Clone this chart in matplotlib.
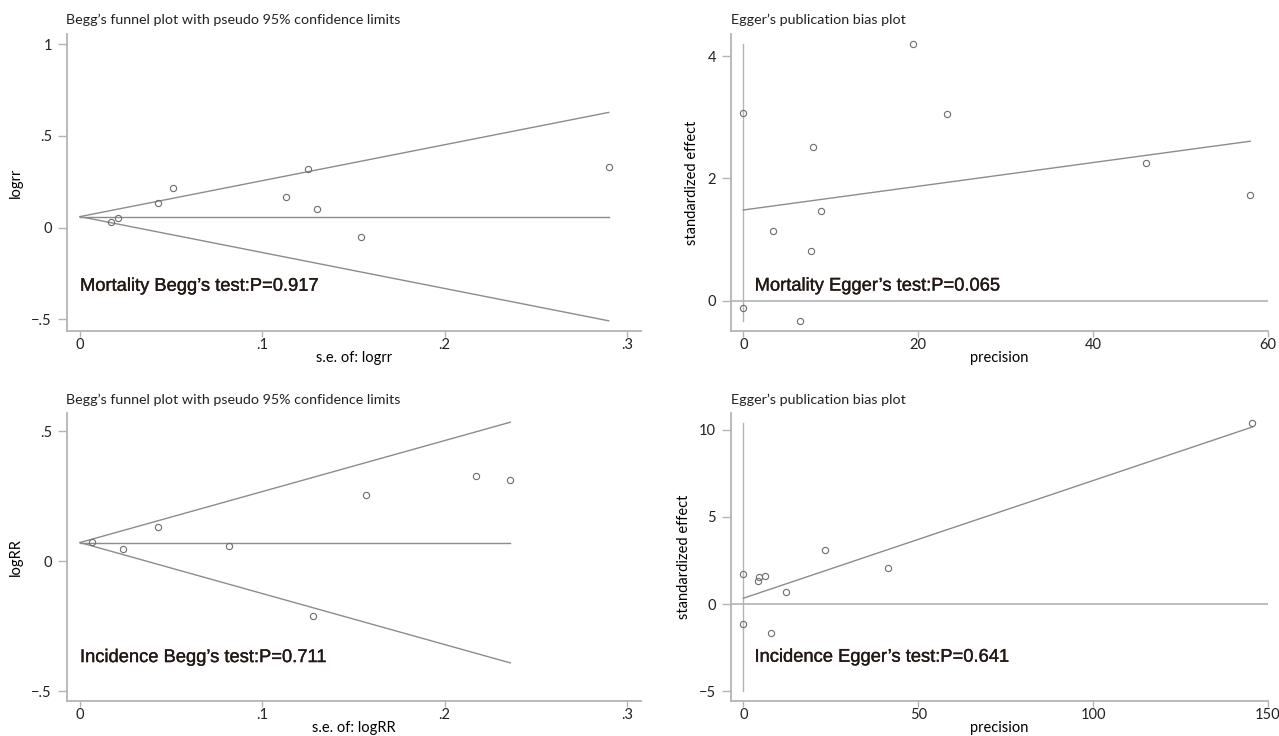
import numpy as np
import matplotlib
matplotlib.use("Agg")
import matplotlib.pyplot as plt
import matplotlib.patheffects as pe

# --- Mortality: Begg's funnel data (s.e. of logrr, logrr)
mort_se = [0.017, 0.021, 0.043, 0.051, 0.113, 0.125, 0.130, 0.154, 0.290]
mort_logrr = [0.030, 0.050, 0.133, 0.215, 0.166, 0.317, 0.104, -0.051, 0.330]
mort_pooled = 0.060

# --- Mortality: Egger data (precision, standardized effect)
mort_prec = [0.0, 0.0, 3.45, 6.52, 7.73, 7.96, 8.85, 19.43, 23.35, 46.0, 57.96]
mort_std = [3.07, -0.114, 1.145, -0.327, 0.813, 2.51, 1.47, 4.19, 3.06, 2.25, 1.72]
mort_egger_fit = [1.483, 2.607]       # fitted values at precision 0 and max
mort_egger_vline = [-0.33, 4.19]

# --- Incidence: Begg's funnel data
inc_se = [0.0065, 0.0237, 0.0426, 0.0815, 0.1276, 0.157, 0.217, 0.236]
inc_logrr = [0.073, 0.0485, 0.131, 0.0588, -0.2096, 0.2555, 0.328, 0.314]
inc_pooled = 0.072

# --- Incidence: Egger data
inc_prec = [0.0, 0.0, 4.3, 4.6, 6.29, 7.8, 12.1, 23.3, 41.5, 145.4]
inc_std = [1.71, -1.14, 1.34, 1.52, 1.62, -1.66, 0.71, 3.07, 2.04, 10.38]
inc_egger_fit = [0.33, 10.14]
inc_egger_vline = [-5.0, 10.4]

begg_title = "Begg\u2019s funnel plot with pseudo 95% confidence limits"
egger_title = "Egger\u2019s publication bias plot"

LINE = "#8c8c8c"
SPINE = "#b4b4b4"
MARK = "#6e6e6e"
TXT = "#231815"
ANN_FONT = ["Liberation Sans", "DejaVu Sans"]
BOLDEN = [pe.withStroke(linewidth=0.25, foreground=TXT)]

plt.rcParams["font.family"] = ["Lato", "DejaVu Sans"]

fig = plt.figure(figsize=(12.79, 7.36), dpi=100)
W, H = 1279, 736


def make_ax(l, t, r, b):
    ax = fig.add_axes([l / W, 1 - b / H, (r - l) / W, (b - t) / H])
    for s in ["top", "right"]:
        ax.spines[s].set_visible(False)
    for s in ["left", "bottom"]:
        ax.spines[s].set_color(SPINE)
        ax.spines[s].set_linewidth(1.3)
    ax.tick_params(axis="y", colors=SPINE, labelcolor="#222222", length=6.5,
                   width=1.0, labelsize=10.5, pad=4)
    ax.tick_params(axis="x", colors=SPINE, labelcolor="#222222", length=4,
                   width=1.0, labelsize=10.5, pad=1)
    return ax


def begg(ax, se, eff, pooled, xlabel, ylabel, yticks, ylabels, ylim, note, title, tl):
    se_max = max(se)
    xs = np.array([0, se_max])
    ax.plot(xs, [pooled, pooled], color=LINE, lw=1.0)
    ax.plot(xs, pooled + 1.96 * xs, color=LINE, lw=1.0)
    ax.plot(xs, pooled - 1.96 * xs, color=LINE, lw=1.0)
    ax.plot(se, eff, "o", mfc="none", mec=MARK, ms=4.5, mew=0.8)
    ax.set_xlim(-0.0074, 0.3077)
    ax.set_ylim(*ylim)
    ax.set_xticks([0, 0.1, 0.2, 0.3])
    ax.set_xticklabels(["0", ".1", ".2", ".3"])
    ax.set_yticks(yticks)
    ax.set_yticklabels(ylabels)
    ax.set_xlabel(xlabel, fontsize=10.5, labelpad=-1)
    ax.set_ylabel(ylabel, fontsize=10.5, labelpad=6)
    ax.text(0.0, note[1], note[0], fontsize=13.2, color=TXT, family=ANN_FONT,
            va="center", ha="left", path_effects=BOLDEN)
    fig.text(tl[0] / W, 1 - tl[1] / H, title, fontsize=10.3, color="#222222",
             ha="left", va="center")


def egger(ax, prec, std, fit, vline, xlim, ylim, xticks, yticks, note, title, tl):
    ax.axhline(0, color=SPINE, lw=1.2)
    ax.plot([0, 0], vline, color=SPINE, lw=1.0)
    ax.plot([0, max(prec)], fit, color=LINE, lw=1.0)
    ax.plot(prec, std, "o", mfc="none", mec=MARK, ms=4.5, mew=0.8)
    ax.set_xlim(*xlim)
    ax.set_ylim(*ylim)
    ax.set_xticks(xticks)
    ax.set_yticks(yticks)
    ax.set_xlabel("precision", fontsize=10.5, labelpad=-1)
    ax.set_ylabel("standardized effect", fontsize=10.5, labelpad=6)
    ax.text(note[1], note[2], note[0], fontsize=13.2, color=TXT, family=ANN_FONT,
            va="center", ha="left", path_effects=BOLDEN)
    fig.text(tl[0] / W, 1 - tl[1] / H, title, fontsize=10.3, color="#222222",
             ha="left", va="center")


ax1 = make_ax(66.5, 34, 641, 331)
begg(ax1, mort_se, mort_logrr, mort_pooled, "s.e. of: logrr", "logrr",
     [-0.5, 0, 0.5, 1], ["\u2212.5", "0", ".5", "1"], (-0.564, 1.056),
     ("Mortality Begg\u2019s test:P=0.917", -0.32), begg_title, (66.5, 20))

ax2 = make_ax(730.6, 34, 1268, 331)
egger(ax2, mort_prec, mort_std, mort_egger_fit, mort_egger_vline,
      (-1.45, 60.0), (-0.495, 4.36), [0, 20, 40, 60], [0, 2, 4],
      ("Mortality Egger\u2019s test:P=0.065", 1.3, 0.24), egger_title, (730.6, 20))

ax3 = make_ax(66.5, 413, 641, 701)
begg(ax3, inc_se, inc_logrr, inc_pooled, "s.e. of: logRR", "logRR",
     [-0.5, 0, 0.5], ["\u2212.5", "0", ".5"], (-0.537, 0.570),
     ("Incidence Begg\u2019s test:P=0.711", -0.37), begg_title, (66.5, 400))

ax4 = make_ax(730.6, 413, 1268, 701)
egger(ax4, inc_prec, inc_std, inc_egger_fit, inc_egger_vline,
      (-3.63, 149.9), (-5.56, 10.95), [0, 50, 100, 150], [-5, 0, 5, 10],
      ("Incidence Egger\u2019s test:P=0.641", 3.2, -3.05), egger_title, (730.6, 400))

fig.savefig("out.png", dpi=100)
